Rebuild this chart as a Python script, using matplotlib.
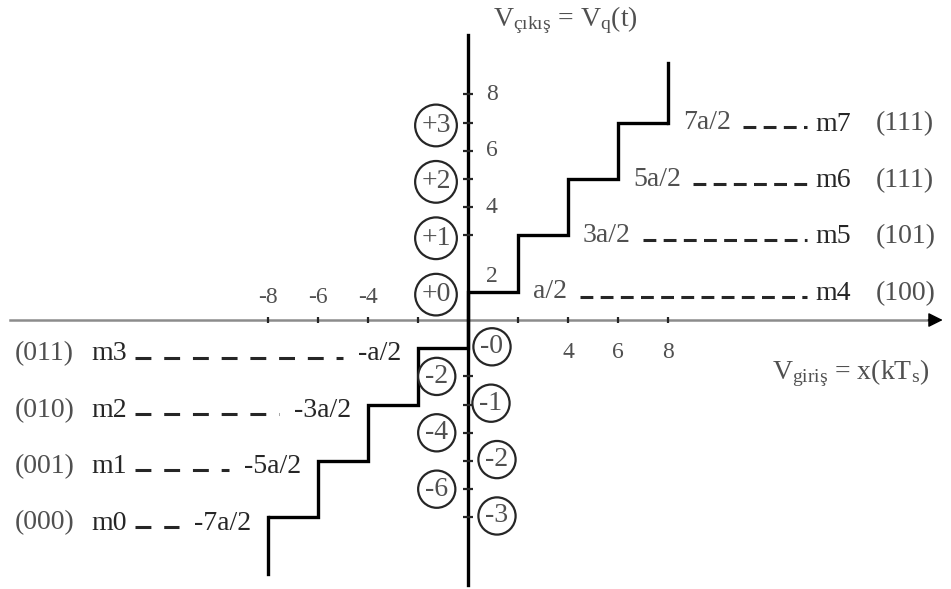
"""
Uniform mid-rise quantizer (3 bit, a = 2): staircase transfer characteristic
with output levels, level names and code words.
Writes out.png
"""

import matplotlib

matplotlib.use("Agg")
import matplotlib.pyplot as plt

plt.rcParams["font.family"] = ["Liberation Serif", "DejaVu Serif"]
plt.rcParams["mathtext.fontset"] = "custom"
plt.rcParams["mathtext.rm"] = "Liberation Serif"
plt.rcParams["mathtext.it"] = "Liberation Serif:italic"

# decision edges on the input axis and the output level of each cell (a = 2)
edges = [-8, -6, -4, -2, 0, 2, 4, 6, 8]
levels = [-7, -5, -3, -1, 1, 3, 5, 7]
level_labels = ["-7a/2", "-5a/2", "-3a/2", "-a/2", "a/2", "3a/2", "5a/2", "7a/2"]
level_names = ["m0", "m1", "m2", "m3", "m4", "m5", "m6", "m7"]
codes = ["(000)", "(001)", "(010)", "(011)", "(100)", "(101)", "(111)", "(111)"]
tail_low, tail_high = -9.0, 9.1

# circled level indices beside the vertical axis
pos_marks = ["+0", "+1", "+2", "+3"]
neg_marks_right = ["-0", "-1", "-2", "-3"]
neg_marks_left = ["-2", "-4", "-6"]
neg_marks_left_at = [-2, -4, -6]

# axis numbering
y_tick_labels = [2, 4, 6, 8]
x_tick_labels = [-8, -6, -4, 4, 6, 8]
y_ticks = [3, 4, 5, 6, 7, 8, -2, -3, -4, -5, -6, -7]
x_ticks = [-8, -6, -4, -2, 2, 4, 6, 8]

INK = "#262626"
SOFT = "#505050"
FS = 20


def main():
    fig = plt.figure(figsize=(9.51, 5.89), dpi=100)
    ax = fig.add_axes([0, 0, 1, 1])
    ax.set_xlim(-18.72, 19.32)
    ax.set_ylim(-9.54, 11.35)
    ax.axis("off")

    # axes
    ax.plot([-18.3, 18.6], [0, 0], color="#8c8c8c", lw=1.8, zorder=1)
    ax.annotate("", xy=(19.1, 0), xytext=(18.3, 0),
                arrowprops=dict(arrowstyle="-|>", color="black", lw=1, mutation_scale=22))
    ax.plot([0, 0], [-9.4, 10.1], color="black", lw=2.4, zorder=2)
    ax.plot([0] * len(y_ticks), y_ticks, ls="none", marker="_", ms=7, mew=1.6, color=INK)
    ax.plot(x_ticks, [0] * len(x_ticks), ls="none", marker="|", ms=4, mew=1.6, color=INK)

    # staircase
    ax.stairs(levels, edges, baseline=None, color="black", lw=2.4, zorder=3)
    ax.plot([edges[0], edges[0]], [levels[0], tail_low], color="black", lw=2.4)
    ax.plot([edges[-1], edges[-1]], [levels[-1], tail_high], color="black", lw=2.4)

    fig.canvas.draw()
    renderer = fig.canvas.get_renderer()
    inv = ax.transData.inverted()

    def extent(t):
        bb = t.get_window_extent(renderer)
        (x0, _), (x1, _) = inv.transform([(bb.x0, bb.y0), (bb.x1, bb.y1)])
        return x0, x1

    for i, (lev, lab, name, code) in enumerate(zip(levels, level_labels, level_names, codes)):
        if lev > 0:
            t = ax.text(edges[i + 1] + 0.6, lev, lab, ha="left", va="center",
                        fontsize=FS, color=SOFT)
            _, x1 = extent(t)
            ax.plot([x1 + 0.5, 13.55], [lev - 0.17, lev - 0.17], color=INK, lw=2.2,
                    ls=(0, (4.2, 2.4)))
            ax.text(13.9, lev - 0.05, name, ha="left", va="center", fontsize=FS, color=INK)
            ax.text(16.3, lev - 0.05, code, ha="left", va="center", fontsize=FS, color=SOFT)
        else:
            y = lev - 0.2
            t = ax.text(edges[i] - 0.67, y, lab, ha="right", va="center", fontsize=FS, color=INK)
            x0, _ = extent(t)
            ax.plot([-13.3, x0 - 0.6], [lev - 0.33, lev - 0.33], color=INK, lw=2.2,
                    ls=(0, (5.2, 4.2)))
            ax.text(-15.05, y, name, ha="left", va="center", fontsize=FS, color=INK)
            ax.text(-18.12, y, code, ha="left", va="center", fontsize=FS, color=SOFT)

    # circled indices
    circ = dict(boxstyle="circle,pad=0.22", fc="white", ec=INK, lw=1.6)
    for lab, lev in zip(pos_marks, levels[4:]):
        ax.text(-1.28, lev - 0.1, lab, ha="center", va="center", fontsize=FS, color=SOFT, bbox=circ)
    for lab, lev, dx in zip(neg_marks_right, levels[:4][::-1], [0.96, 0.92, 1.16, 1.16]):
        ax.text(dx, lev + 0.05, lab, ha="center", va="center", fontsize=FS, color=SOFT, bbox=circ)
    for lab, lev in zip(neg_marks_left, neg_marks_left_at):
        ax.text(-1.25, lev, lab, ha="center", va="center", fontsize=FS, color=SOFT, bbox=circ)

    # axis numbers
    for v in y_tick_labels:
        ax.text(0.95, v - (0.45 if v == 2 else 0), str(v), ha="center", va="center",
                fontsize=17, color=SOFT)
    for v in x_tick_labels:
        yy = 0.8 if v < 0 else -1.15
        ax.text(v, yy, str(v), ha="center", va="center", fontsize=17, color=SOFT)

    # axis names
    ax.text(3.9, 10.62, "V$_{\\mathrm{çıkış}}$ = V$_{\\mathrm{q}}$(t)", ha="center",
            va="center", fontsize=FS, color=SOFT)
    ax.text(15.3, -1.9, "V$_{\\mathrm{giriş}}$ = x(kT$_{\\mathrm{s}}$)", ha="center",
            va="center", fontsize=FS, color=SOFT)

    fig.savefig("out.png", dpi=100)


if __name__ == "__main__":
    main()
